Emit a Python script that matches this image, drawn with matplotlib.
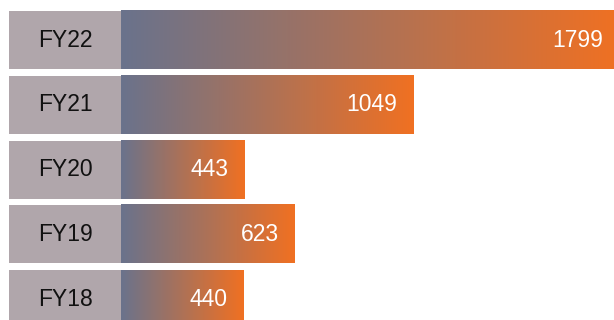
import numpy as np
import matplotlib
matplotlib.use("Agg")
import matplotlib.pyplot as plt
from matplotlib.colors import LinearSegmentedColormap
from matplotlib.patches import Rectangle

# data
years = ["FY22", "FY21", "FY20", "FY19", "FY18"]
values = [1799, 1049, 443, 623, 440]

# colours
label_bg = "#b0a6ab"
grad = LinearSegmentedColormap.from_list("bar_grad", ["#6a738c", "#f07022"])

plt.rcParams["font.family"] = ["Liberation Sans", "DejaVu Sans"]

fig = plt.figure(figsize=(6.14, 3.2), dpi=100)
ax = fig.add_axes([0, 0, 1, 1])

x_left, x_right = -434.5, 1770
ax.set_xlim(x_left, x_right)
ax.set_ylim(4.324, -0.618)
ax.axis("off")

bar_h = 0.896
label_left = -402  # left edge of grey label box, in data units
ramp = np.linspace(0, 1, 256).reshape(1, -1)

for i, (yr, v) in enumerate(zip(years, values)):
    top, bottom = i - bar_h / 2, i + bar_h / 2
    # grey label box
    ax.add_patch(Rectangle((label_left, top), -label_left, bar_h,
                           facecolor=label_bg, edgecolor="none"))
    ax.text(label_left / 2, i, yr, ha="center", va="center",
            fontsize=16.5, color="#111111")
    # gradient bar, one ramp per bar
    ax.imshow(ramp, cmap=grad, aspect="auto",
              extent=[0, v, bottom, top], interpolation="bilinear")
    # value label (bar running past the edge gets a smaller inset)
    clipped = v > x_right
    ax.annotate(str(v), xy=(min(v, x_right), i),
                xytext=(-11 if clipped else -16, 0),
                textcoords="offset pixels", ha="right", va="center",
                fontsize=16.5, color="white")

ax.set_xlim(x_left, x_right)
ax.set_ylim(4.324, -0.618)

fig.savefig("out.png", dpi=100, facecolor="white")
